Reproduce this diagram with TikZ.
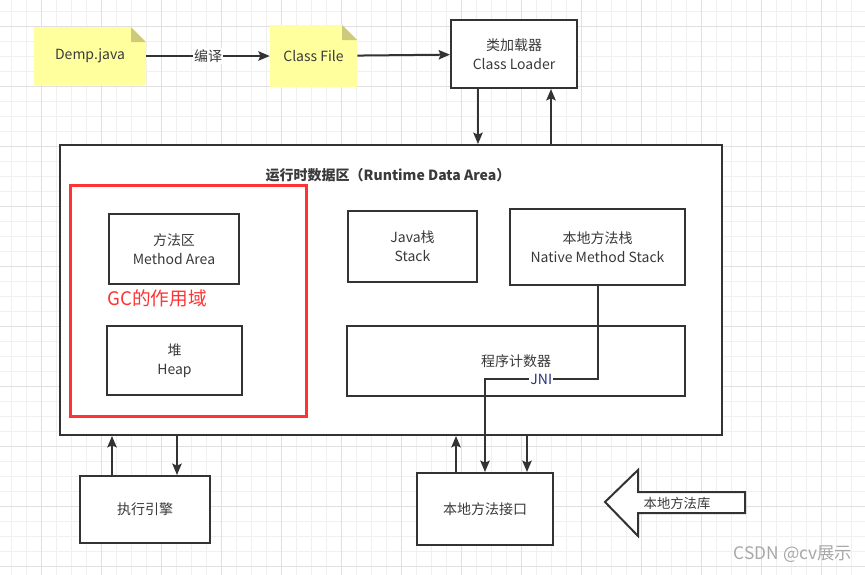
\documentclass[tikz,border=0pt]{standalone}
\usepackage{fontspec}
\setmainfont{Noto Sans CJK SC}
\usetikzlibrary{arrows.meta,calc}

\definecolor{linec}{HTML}{333333}
\definecolor{textc}{HTML}{3A3A3A}
\definecolor{notey}{HTML}{FFFF9E}
\definecolor{foldy}{HTML}{CDCB7A}
\definecolor{gcred}{HTML}{FF3333}
\definecolor{gridmin}{HTML}{F0F0F0}
\definecolor{gridmaj}{HTML}{E0E0E0}
\definecolor{jnic}{HTML}{28327A}
\definecolor{wmgray}{HTML}{A8A8A8}

\begin{document}
\begin{tikzpicture}[
    x=0.75pt, y=-0.75pt,
    every node/.style={text=textc, font=\fontsize{10.5}{14}\selectfont},
    sz/.style 2 args={minimum width=#1*0.75pt, minimum height=#2*0.75pt},
    box/.style={draw=linec, line width=1.5pt, fill=white, align=center, inner sep=0pt},
    note/.style={inner sep=0pt, align=center, path picture={
        \fill[notey] (path picture bounding box.south west) -- (path picture bounding box.north west)
          -- ([xshift=-11.25pt]path picture bounding box.north east)
          -- ([yshift=-11.25pt]path picture bounding box.north east)
          -- (path picture bounding box.south east) -- cycle;
        \fill[foldy] ([xshift=-11.25pt]path picture bounding box.north east)
          -- ([xshift=-11.25pt,yshift=-11.25pt]path picture bounding box.north east)
          -- ([yshift=-11.25pt]path picture bounding box.north east) -- cycle;}},
    arrow/.style={draw=linec, line width=1.5pt, -{Stealth[length=8.5pt,width=7pt,inset=1.5pt]}},
    link/.style={draw=linec, line width=1.5pt}
  ]
    \useasboundingbox (0,0) rectangle (865,575);
    \fill[white] (0,0) rectangle (865,575);
    % grid
    \foreach \g in {11.7,26.7,...,865} \draw[gridmin, line width=0.75pt] (\g,0) -- (\g,575);
    \foreach \g in {11.7,26.7,...,575} \draw[gridmin, line width=0.75pt] (0,\g) -- (865,\g);
    \foreach \g in {41.7,101.7,...,865} \draw[gridmaj, line width=0.75pt] (\g,0) -- (\g,575);
    \foreach \g in {26.7,86.7,...,575} \draw[gridmaj, line width=0.75pt] (0,\g) -- (865,\g);

    % source and loader
    \node[note, sz={112}{58}] (demp) at (90,56) {Demp.java};
    \node[note, sz={87}{62}] (cls) at (313.5,56) {Class File};
    \node[box, sz={126}{68}] (loader) at (514,54) {类加载器\\Class Loader};

    % runtime data area
    \node[box, sz={662}{290}] (rda) at (391,290) {};
    \node[font=\fontsize{10.5}{14}\selectfont\bfseries] (rdatitle) at (388,175) {运行时数据区（Runtime Data Area）};
    \node[draw=gcred, line width=2.2pt, sz={236}{231}] (gc) at (188.5,301) {};
    \node[box, sz={130}{70}] (method) at (174,249) {方法区\\Method Area};
    \node[text=gcred, font=\fontsize{14}{16}\selectfont] (gctext) at (157,298) {GC的作用域};
    \node[box, sz={135}{69}] (heap) at (174.5,360.5) {堆\\Heap};
    \node[box, sz={129}{71}] (jstack) at (412.5,246.5) {Java栈\\Stack};
    \node[box, sz={175}{76}] (nstack) at (597.5,247) {本地方法栈\\Native Method Stack};
    \node[box, sz={338}{70}] (pc) at (516,361) {程序计数器};

    % bottom
    \node[box, sz={130}{67}] (engine) at (145,509.5) {执行引擎};
    \node[box, sz={136}{72}] (iface) at (485,509) {本地方法接口};
    \draw[link, fill=white, line join=miter] (745,492) -- (638,492) -- (638,470) -- (605,502)
      -- (638,536) -- (638,513) -- (745,513) -- cycle;
    \node[font=\fontsize{10}{12}\selectfont] (lib) at (677,503) {本地方法库};
    \node[text=wmgray, font=\fontsize{13}{15}\selectfont] (wm) at (793,554) {CSDN @cv展示};

    % connectors
    \draw[arrow] (demp) -- node[fill=white, inner sep=1pt] {编译} (cls);
    \draw[arrow] (cls) -- (loader);
    \coordinate (l1) at ($(loader.south)+(-36,0)$);
    \coordinate (l2) at ($(loader.south)+(37,0)$);
    \draw[arrow] (l1) -- (l1 |- rda.north);
    \draw[arrow] (l2 |- rda.north) -- (l2);
    \coordinate (e1) at ($(engine.north)+(-33,0)$);
    \coordinate (e2) at ($(engine.north)+(32,0)$);
    \draw[arrow] (e1) -- (e1 |- rda.south);
    \draw[arrow] (e2 |- rda.south) -- (e2);
    \coordinate (i1) at ($(iface.north)+(-29,0)$);
    \coordinate (i2) at ($(iface.north)+(42,0)$);
    \draw[arrow] (i1) -- (i1 |- rda.south);
    \draw[arrow] (i2 |- rda.south) -- (i2);
    \coordinate (jniy) at (0,379);
    \draw[arrow] (nstack.south) -- (nstack.south |- jniy)
      -- node[fill=white, inner sep=1pt, text=jnic] {JNI} (iface.north |- jniy) -- (iface.north);
  \end{tikzpicture}
\end{document}
